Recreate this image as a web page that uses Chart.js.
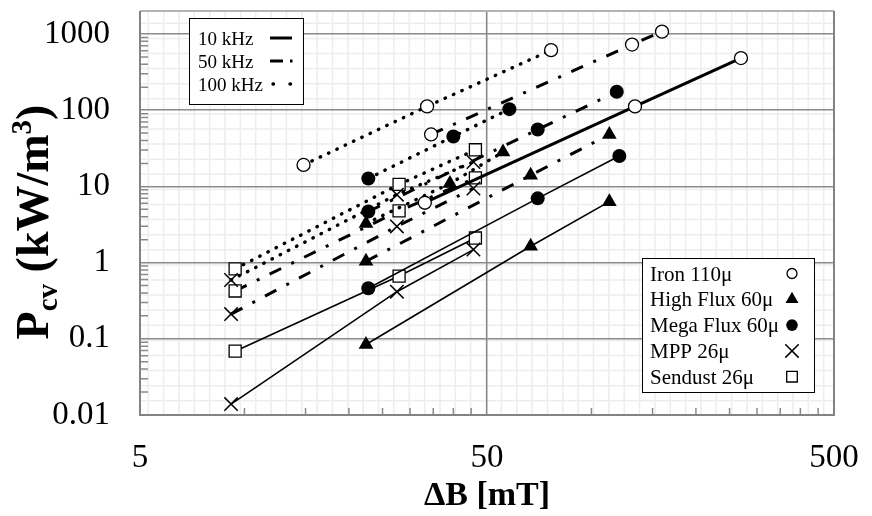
<!DOCTYPE html>
<html>
<head>
<meta charset="utf-8">
<script src="https://cdn.jsdelivr.net/npm/chart.js@4.4.1/dist/chart.umd.min.js"></script>
<style>
  html, body { margin: 0; padding: 0; background: #fff; }
  #wrap { width: 872px; height: 516px; }
</style>
</head>
<body>
<div id="wrap"><canvas id="lossChart" width="872" height="516"></canvas></div>
<script>
// core loss vs flux swing (ΔB in mT, Pcv in kW/m3)
const iron10B = [33.1, 133.5, 269.7];
const iron10P = [6.1, 112, 483];
const iron50B = [34.5, 130.9, 159.7];
const iron50P = [48, 726, 1071];
const iron100B = [14.8, 33.6, 76.5];
const iron100P = [19.1, 112, 613];

const hiflux10B = [22.4, 66.8, 112.6];
const hiflux10P = [0.084, 1.64, 6.3];
const hiflux50B = [22.4, 66.8, 112.6];
const hiflux50P = [1.04, 14.0, 48.0];
const hiflux100B = [22.4, 39.1, 55.6];
const hiflux100P = [3.26, 10.9, 28.2];

const mega10B = [22.75, 70.0, 120.3];
const mega10P = [0.46, 6.96, 25.0];
const mega50B = [22.75, 70.0, 118.3];
const mega50P = [4.67, 55.7, 174];
const mega100B = [22.75, 40.0, 58.0];
const mega100P = [12.7, 45.2, 103];

const mpp10B = [9.15, 27.5, 45.7];
const mpp10P = [0.0139, 0.415, 1.48];
const mpp50B = [9.15, 27.5, 45.7];
const mpp50P = [0.211, 2.98, 9.39];
const mpp100B = [9.15, 27.5, 45.7];
const mpp100P = [0.59, 7.78, 20.9];

const sendust10B = [9.4, 27.9, 46.3];
const sendust10P = [0.0688, 0.665, 2.10];
const sendust50B = [9.4, 27.9, 46.3];
const sendust50P = [0.424, 4.77, 12.9];
const sendust100B = [9.4, 27.9, 46.3];
const sendust100P = [0.828, 10.6, 30.2];

const materials = ['Iron 110μ', 'High Flux 60μ', 'Mega Flux 60μ', 'MPP 26μ', 'Sendust 26μ'];
const frequencies = ['10 kHz', '50 kHz', '100 kHz'];
const xTicks = [5, 50, 500];
const yTicks = [0.01, 0.1, 1, 10, 100, 1000];

const serif = "'Liberation Serif', 'Times New Roman', serif";

// marker look per material
const markers = [
    { pointStyle: 'circle',   fill: '#fff', radius: 6.5, bw: 1.3, legendRadius: 5 },
    { pointStyle: 'triangle', fill: '#000', radius: 8.5, bw: 0,   legendRadius: 7.5 },
    { pointStyle: 'circle',   fill: '#000', radius: 7,   bw: 0,   legendRadius: 5.8 },
    { pointStyle: 'crossRot', fill: '#000', radius: 9.5, bw: 1.5, legendRadius: 9.5 },
    { pointStyle: 'rect',     fill: '#fff', radius: 8.5, bw: 1.3, legendRadius: 7.5 }
];
// line look per frequency
const lineLooks = [
    { width: 1.6, dash: [], cap: 'butt' },
    { width: 3, dash: [12.8, 11.3, 3, 11.3], cap: 'butt' },
    { width: 3.4, dash: [0.5, 8.7], cap: 'round' }
];

const table = [
    [[iron10B, iron10P], [iron50B, iron50P], [iron100B, iron100P]],
    [[hiflux10B, hiflux10P], [hiflux50B, hiflux50P], [hiflux100B, hiflux100P]],
    [[mega10B, mega10P], [mega50B, mega50P], [mega100B, mega100P]],
    [[mpp10B, mpp10P], [mpp50B, mpp50P], [mpp100B, mpp100P]],
    [[sendust10B, sendust10P], [sendust50B, sendust50P], [sendust100B, sendust100P]]
];

const datasets = [];
table.forEach((rows, m) => {
    rows.forEach(([b, p], f) => {
        const mk = markers[m];
        const lk = lineLooks[f];
        datasets.push({
            label: materials[m] + ' ' + frequencies[f],
            data: b.map((v, i) => ({ x: v, y: p[i] })),
            showLine: true,
            borderColor: '#000',
            borderWidth: (m === 0 && f === 0) ? 3 : lk.width,
            borderDash: lk.dash,
            borderCapStyle: lk.cap,
            tension: 0,
            pointStyle: mk.pointStyle,
            pointRadius: mk.radius,
            pointHoverRadius: mk.radius,
            pointBackgroundColor: mk.fill,
            pointBorderColor: '#000',
            pointBorderWidth: mk.bw
        });
    });
});

// no extra room for overhanging tick labels
const noPad = s => { s.paddingTop = 0; s.paddingBottom = 0; s.paddingLeft = 0; s.paddingRight = 0; };

// light square pattern behind the plot, frame, minor ticks, legends, titles
const decor = {
    id: 'decor',
    beforeDraw(chart) {
        const { ctx, chartArea: a } = chart;
        ctx.save();
        ctx.fillStyle = '#fff';
        ctx.fillRect(0, 0, chart.width, chart.height);
        ctx.strokeStyle = '#ededed';
        ctx.lineWidth = 1.5;
        ctx.beginPath();
        for (let x = a.left + 8.3; x < a.right; x += 15.35) {
            ctx.moveTo(x, a.top); ctx.lineTo(x, a.bottom);
        }
        for (let y = a.bottom - 14.2; y > a.top; y -= 15.1) {
            ctx.moveTo(a.left, y); ctx.lineTo(a.right, y);
        }
        ctx.stroke();
        ctx.restore();
    },
    beforeDatasetsDraw(chart) {
        const { ctx, chartArea: a, scales } = chart;
        ctx.save();
        ctx.strokeStyle = '#8a8a8a';
        ctx.lineWidth = 1.5;
        ctx.beginPath();
        for (const d of [5, 50]) {
            for (let k = 2; k <= 9; k++) {
                const px = scales.x.getPixelForValue(d * k);
                ctx.moveTo(px, a.bottom); ctx.lineTo(px, a.bottom - 7);
            }
        }
        for (const d of yTicks) {
            for (let k = 2; k <= 9; k++) {
                if (d * k >= 2000) continue;
                const py = scales.y.getPixelForValue(d * k);
                ctx.moveTo(a.left, py); ctx.lineTo(a.left + 8, py);
            }
        }
        ctx.stroke();
        // frame: top edge lighter, like the original
        ctx.lineWidth = 2;
        ctx.strokeStyle = '#b4b4b4';
        ctx.beginPath();
        ctx.moveTo(a.left, a.top); ctx.lineTo(a.right, a.top);
        ctx.stroke();
        ctx.strokeStyle = '#838383';
        ctx.beginPath();
        ctx.moveTo(a.left, a.top); ctx.lineTo(a.left, a.bottom);
        ctx.lineTo(a.right, a.bottom); ctx.lineTo(a.right, a.top);
        ctx.stroke();
        ctx.restore();
    },
    afterDraw(chart) {
        const ctx = chart.ctx;
        ctx.save();

        // frequency legend
        ctx.fillStyle = '#fff';
        ctx.strokeStyle = '#000';
        ctx.lineWidth = 1;
        ctx.fillRect(189.5, 18.5, 114, 86);
        ctx.strokeRect(189.5, 18.5, 114, 86);
        ctx.fillStyle = '#000';
        ctx.font = '19px ' + serif;
        ctx.textBaseline = 'alphabetic';
        const samples = [
            { dash: [], cap: 'butt', w: 3, x0: 270, x1: 292 },
            { dash: [13, 7, 2.5, 20], cap: 'butt', w: 3, x0: 270, x1: 293 },
            { dash: [0.5, 16.5], cap: 'round', w: 3.4, x0: 273, x1: 291 }
        ];
        frequencies.forEach((t, i) => {
            const cy = 38 + i * 23;
            ctx.fillText(t, 198, cy + 6.5);
            const s = samples[i];
            ctx.beginPath();
            ctx.setLineDash(s.dash);
            ctx.lineCap = s.cap;
            ctx.lineWidth = s.w;
            ctx.moveTo(s.x0, cy); ctx.lineTo(s.x1, cy);
            ctx.stroke();
        });
        ctx.setLineDash([]);
        ctx.lineCap = 'butt';

        // material legend
        ctx.fillStyle = '#fff';
        ctx.lineWidth = 1;
        ctx.fillRect(642.5, 258.5, 172, 134);
        ctx.strokeRect(642.5, 258.5, 172, 134);
        ctx.font = '21px ' + serif;
        materials.forEach((t, i) => {
            const cy = 273.5 + i * 25.8;
            ctx.fillStyle = '#000';
            ctx.fillText(t, 650, cy + 7);
            const mk = markers[i];
            ctx.fillStyle = mk.fill;
            ctx.strokeStyle = '#000';
            ctx.lineWidth = mk.bw;
            Chart.helpers.drawPoint(ctx, {
                pointStyle: mk.pointStyle, radius: mk.legendRadius, rotation: 0, borderWidth: mk.bw
            }, 792, cy);
        });

        // axis titles
        ctx.fillStyle = '#000';
        ctx.textAlign = 'center';
        ctx.font = 'bold 34px ' + serif;
        ctx.fillText('ΔB [mT]', 487, 505);

        ctx.translate(48, 222);
        ctx.rotate(-Math.PI / 2);
        const parts = [
            { t: 'P', size: 46, dy: 0 },
            { t: 'cv', size: 29, dy: 9 },
            { t: ' (kW/m', size: 46, dy: 0 },
            { t: '3', size: 29, dy: -17 },
            { t: ')', size: 46, dy: 0 }
        ];
        ctx.textAlign = 'left';
        let total = 0;
        parts.forEach(p => { ctx.font = 'bold ' + p.size + 'px ' + serif; p.w = ctx.measureText(p.t).width; total += p.w; });
        let cx = -total / 2;
        parts.forEach(p => {
            ctx.font = 'bold ' + p.size + 'px ' + serif;
            ctx.fillText(p.t, cx, p.dy);
            cx += p.w;
        });
        ctx.restore();
    }
};

new Chart(document.getElementById('lossChart'), {
    type: 'scatter',
    data: { datasets: datasets },
    options: {
        responsive: false,
        animation: false,
        devicePixelRatio: 1,
        layout: { padding: { left: 0, right: 38, top: 7, bottom: 0 } },
        plugins: { legend: { display: false }, tooltip: { enabled: false } },
        scales: {
            x: {
                type: 'logarithmic',
                min: 5,
                max: 500,
                afterBuildTicks: s => { s.ticks = xTicks.map(v => ({ value: v })); },
                afterFit: s => { s.height = 101; noPad(s); },
                ticks: {
                    autoSkip: false,
                    maxRotation: 0,
                    padding: 24,
                    color: '#000',
                    font: { family: serif, size: 33 },
                    callback: v => String(v)
                },
                grid: { color: '#8a8a8a', lineWidth: 1.5, drawTicks: false },
                border: { display: false }
            },
            y: {
                type: 'logarithmic',
                min: 0.01,
                max: 2000,
                afterBuildTicks: s => { s.ticks = yTicks.map(v => ({ value: v })); },
                afterFit: s => { s.width = 140; noPad(s); },
                ticks: {
                    autoSkip: false,
                    padding: 30,
                    color: '#000',
                    font: { family: serif, size: 33 },
                    callback: v => String(v)
                },
                grid: { color: '#8a8a8a', lineWidth: 1.5, drawTicks: false },
                border: { display: false }
            }
        }
    },
    plugins: [decor]
});
</script>
</body>
</html>
